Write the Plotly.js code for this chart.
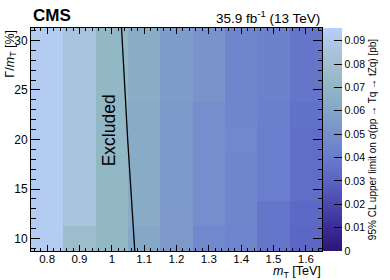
<!DOCTYPE html>
<html>
<head>
<meta charset="utf-8">
<script src="https://cdn.plot.ly/plotly-3.0.1.min.js"></script>
<style>html,body{margin:0;padding:0;background:#fff;}#chart{width:390px;height:280px;}</style>
</head>
<body>
<div id="chart"></div>
<script>
// Data
const massTeV = [0.8, 0.9, 1.0, 1.1, 1.2, 1.3, 1.4, 1.5, 1.6];
const widthPct = [10, 12.5, 15, 17.5, 20, 22.5, 25, 27.5, 30];
const limitRow10   = [0.093, 0.077, 0.071, 0.061, 0.054, 0.046, 0.044, 0.037, 0.031];
const limitRow12_5 = [0.093, 0.086, 0.071, 0.064, 0.054, 0.049, 0.045, 0.037, 0.032];
const limitRow15   = [0.093, 0.086, 0.071, 0.064, 0.055, 0.049, 0.045, 0.041, 0.034];
const limitRow17_5 = [0.093, 0.086, 0.071, 0.064, 0.055, 0.049, 0.045, 0.041, 0.034];
const limitRow20   = [0.093, 0.086, 0.071, 0.064, 0.055, 0.049, 0.046, 0.041, 0.034];
const limitRow22_5 = [0.093, 0.086, 0.071, 0.064, 0.055, 0.049, 0.045, 0.042, 0.036];
const limitRow25   = [0.093, 0.086, 0.071, 0.065, 0.056, 0.052, 0.045, 0.043, 0.037];
const limitRow27_5 = [0.093, 0.086, 0.071, 0.065, 0.056, 0.052, 0.045, 0.043, 0.037];
const limitRow30   = [0.093, 0.086, 0.071, 0.065, 0.056, 0.052, 0.045, 0.043, 0.037];
const exclMass  = [1.030, 1.049, 1.071];
const exclWidth = [31.25, 20, 8.75];
const cbTickVals = [0, 0.01, 0.02, 0.03, 0.04, 0.05, 0.06, 0.07, 0.08, 0.09];
const cbTickText = ["0", "0.01", "0.02", "0.03", "0.04", "0.05", "0.06", "0.07", "0.08", "0.09"];
const zMax = 0.0954;
const paletteVals = [0, 0.01, 0.02, 0.03, 0.04, 0.05, 0.06, 0.07, 0.08, 0.09, 0.0954];
const paletteCols = ["#2d1478", "#3c2c98", "#4a48b0", "#5a64c4", "#687ccc", "#7690cc", "#84a6c8", "#90b6c4", "#a2bed0", "#b0c8e8", "#b8d0fa"];

const z = [limitRow10, limitRow12_5, limitRow15, limitRow17_5, limitRow20, limitRow22_5, limitRow25, limitRow27_5, limitRow30];
const colorscale = paletteVals.map((v, i) => [v / zMax, paletteCols[i]]);
const FONT = "Liberation Sans, Arial, Helvetica, sans-serif";

const traces = [
  {
    type: "heatmap", x: massTeV, y: widthPct, z: z,
    zmin: 0, zmax: zMax, colorscale: colorscale, hoverinfo: "skip",
    colorbar: {
      x: 1.003, xanchor: "left", xpad: 0, ypad: 0, y: 0.5, yanchor: "middle", len: 1,
      thickness: 19, outlinewidth: 0,
      tickmode: "array", tickvals: cbTickVals, ticktext: cbTickText,
      ticks: "inside", ticklen: 8, tickcolor: "#000", tickwidth: 1,
      tickfont: {family: FONT, size: 10.5, color: "#000"},
      title: {text: "95% CL upper limit on σ(pp → Tq → tZq) [pb]", side: "right",
              font: {family: FONT, size: 10, color: "#000"}}
    }
  },
  {
    type: "scatter", mode: "lines", x: exclMass, y: exclWidth,
    line: {color: "#000", width: 1.3}, hoverinfo: "skip", showlegend: false
  }
];

const layout = {
  width: 390, height: 280,
  margin: {l: 31, r: 58, t: 28, b: 29, pad: 0},
  paper_bgcolor: "#fff", plot_bgcolor: "#fff",
  showlegend: false,
  font: {family: FONT, color: "#000"},
  xaxis: {
    range: [0.75, 1.65], dtick: 0.1, tick0: 0.8, ticks: "inside", ticklen: 6, tickcolor: "#000",
    showline: true, linecolor: "#000", linewidth: 1, mirror: "allticks", showgrid: false, zeroline: false,
    tickfont: {family: FONT, size: 11.5, color: "#000"}, ticklabelstandoff: -3,
    minor: {dtick: 0.02, tick0: 0.8, ticks: "inside", ticklen: 3, tickcolor: "#000", showgrid: false}
  },
  yaxis: {
    range: [8.75, 31.25], dtick: 5, tick0: 10, ticks: "inside", ticklen: 9, tickcolor: "#000",
    showline: true, linecolor: "#000", linewidth: 1, mirror: "allticks", showgrid: false, zeroline: false,
    tickfont: {family: FONT, size: 12, color: "#000"},
    minor: {dtick: 1, tick0: 10, ticks: "inside", ticklen: 4.5, tickcolor: "#000", showgrid: false}
  },
  annotations: [
    {text: "<b>CMS</b>", xref: "paper", yref: "paper", x: 0, y: 1, xanchor: "left", yanchor: "bottom",
     yshift: 1, showarrow: false, font: {family: FONT, size: 17, color: "#000"}},
    {text: "35.9 fb<sup>-1</sup> (13 TeV)", xref: "paper", yref: "paper", x: 1, y: 1, xanchor: "right", yanchor: "bottom",
     yshift: 0, showarrow: false, font: {family: FONT, size: 13.5, color: "#000"}},
    {text: "Γ/<i>m</i><sub>T</sub> [%]", xref: "paper", yref: "paper", x: -0.07, y: 1, xanchor: "center", yanchor: "top",
     textangle: -90, showarrow: false, font: {family: FONT, size: 12.5, color: "#000"}},
    {text: "<i>m</i><sub>T</sub> [TeV]", xref: "paper", yref: "paper", x: 1, y: -0.054, xanchor: "right", yanchor: "top",
     borderpad: 0, showarrow: false, font: {family: FONT, size: 12.5, color: "#000"}},
    {text: "Excluded", xref: "x", yref: "y", x: 0.9896, y: 20.97, xanchor: "center", yanchor: "middle",
     textangle: -90, showarrow: false, font: {family: FONT, size: 17.5, color: "#000"}}
  ]
};

Plotly.newPlot("chart", traces, layout, {staticPlot: true, displayModeBar: false});
</script>
</body>
</html>
